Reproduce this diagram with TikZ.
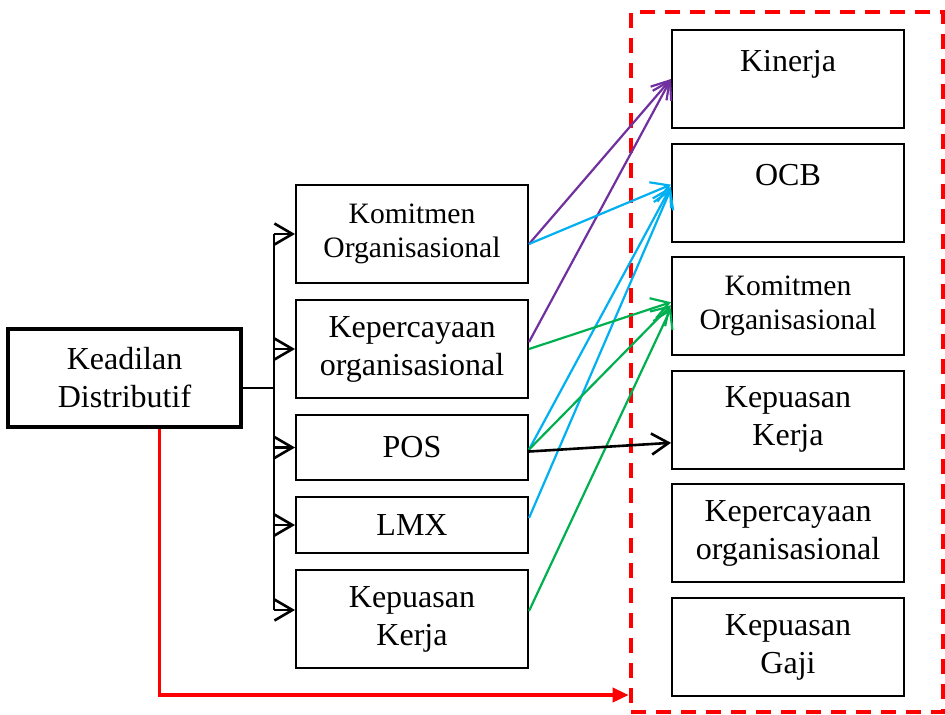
\documentclass[tikz,border=0pt]{standalone}
\usepackage{fontspec}
\setmainfont{Liberation Serif}
\usetikzlibrary{positioning, arrows.meta, calc, fit}
\definecolor{linkPurple}{HTML}{7030A0}
\definecolor{linkCyan}{HTML}{00B0F0}
\definecolor{linkGreen}{HTML}{00B050}
\definecolor{groupRed}{HTML}{FF0000}

\begin{document}
\begin{tikzpicture}[x=0.5pt, y=-0.5pt, node distance=6.8pt and 6pt, every node/.style={align=center}]
    \tikzset{varbox/.style={draw,line width=1pt,minimum width=116pt,minimum height=49pt,inner sep=0pt,font=\fontsize{16}{19}\selectfont},
      smalltext/.style={font=\fontsize{14.8}{17}\selectfont},
      tree/.style={-{Straight Barb[length=9pt,width=10.5pt]},line width=1.3pt},
      link/.style={-{Straight Barb[length=8.5pt,width=10.5pt]},line width=1.1pt},
      group/.style={draw=groupRed,line width=2.3pt,dash pattern=on 7.5pt off 5pt,inner sep=0pt},
      redarrow/.style={-{Triangle[length=8pt,width=7pt]},line width=1.8pt,draw=groupRed}}
    \useasboundingbox (0,0) rectangle (945,714);
    % left: independent variable
    \node[varbox,line width=2pt,minimum width=116.5pt] (kd) at (124.5,378) {Keadilan\\Distributif};
    % middle column
    \node[varbox,smalltext] (km) at (412,234) {Komitmen\\Organisasional};
    \node[varbox,below=7.5pt of km] (kp) {Kepercayaan\\organisasional};
    \node[varbox,below=7.5pt of kp,minimum height=32.5pt] (pos) {POS};
    \node[varbox,below=7.5pt of pos,minimum height=28pt] (lmx) {LMX};
    \node[varbox,below=7.5pt of lmx] (kkm) {Kepuasan\\Kerja};
    % right column (outcomes)
    \node[varbox] (kin) at (788,79) {Kinerja\\[-7pt]\strut};
    \node[varbox,below=of kin] (ocb) {OCB\\[-7pt]\strut};
    \node[varbox,smalltext,below=of ocb] (kor) {Komitmen\\Organisasional};
    \node[varbox,below=of kor] (kkr) {Kepuasan\\Kerja};
    \node[varbox,below=of kkr] (kpr) {Kepercayaan\\organisasional};
    \node[varbox,below=of kpr] (gaji) {Kepuasan\\Gaji};
    \coordinate (g1) at (631,12); \coordinate (g2) at (943,712);
    \node[group,fit=(g1)(g2)] (grp) {};
    % branching tree
    \draw[line width=1.3pt] ($(kd.east)+(0,10)$) -- ++(31,0) coordinate (fork);
    \coordinate (kkin) at ($(kkm.west)+(0,-9)$);
    \draw[line width=1.3pt] (fork |- km.west) -- (fork |- kkin);
    \foreach \n in {km,kp,pos,lmx} \draw[tree] (fork |- \n.west) -- (\n.west);
    \draw[tree] (fork |- kkin) -- (kkin);
    % links to outcomes
    \draw[link,linkPurple] ($(km.east)+(0,10)$) -- (kin.west);
    \draw[link,linkPurple] ($(kp.east)+(0,-7)$) -- (kin.west);
    \draw[link,linkCyan] ($(km.east)+(0,10)$) -- ($(ocb.west)+(0,-8)$);
    \draw[link,linkCyan] ($(pos.east)+(0,2)$) -- ($(ocb.west)+(0,-6)$);
    \draw[link,linkCyan] ($(lmx.east)+(0,-7)$) -- ($(ocb.west)+(0,-4)$);
    \draw[link,linkGreen] (kp.east) -- ($(kor.west)+(0,-4)$);
    \draw[link,linkGreen] ($(pos.east)+(0,2)$) -- ($(kor.west)+(0,-1)$);
    \draw[link,linkGreen] ($(kkm.east)+(0,-8)$) -- ($(kor.west)+(0,2)$);
    \draw[link,black,line width=1.3pt] ($(pos.east)+(0,4)$) -- ($(kkr.west)+(0,23)$);
    % direct path to the group
    \coordinate (gin) at (grp.west |- 0,695);
    \draw[redarrow] ([xshift=17.5pt]kd.south) |- (gin);
\end{tikzpicture}
\end{document}
